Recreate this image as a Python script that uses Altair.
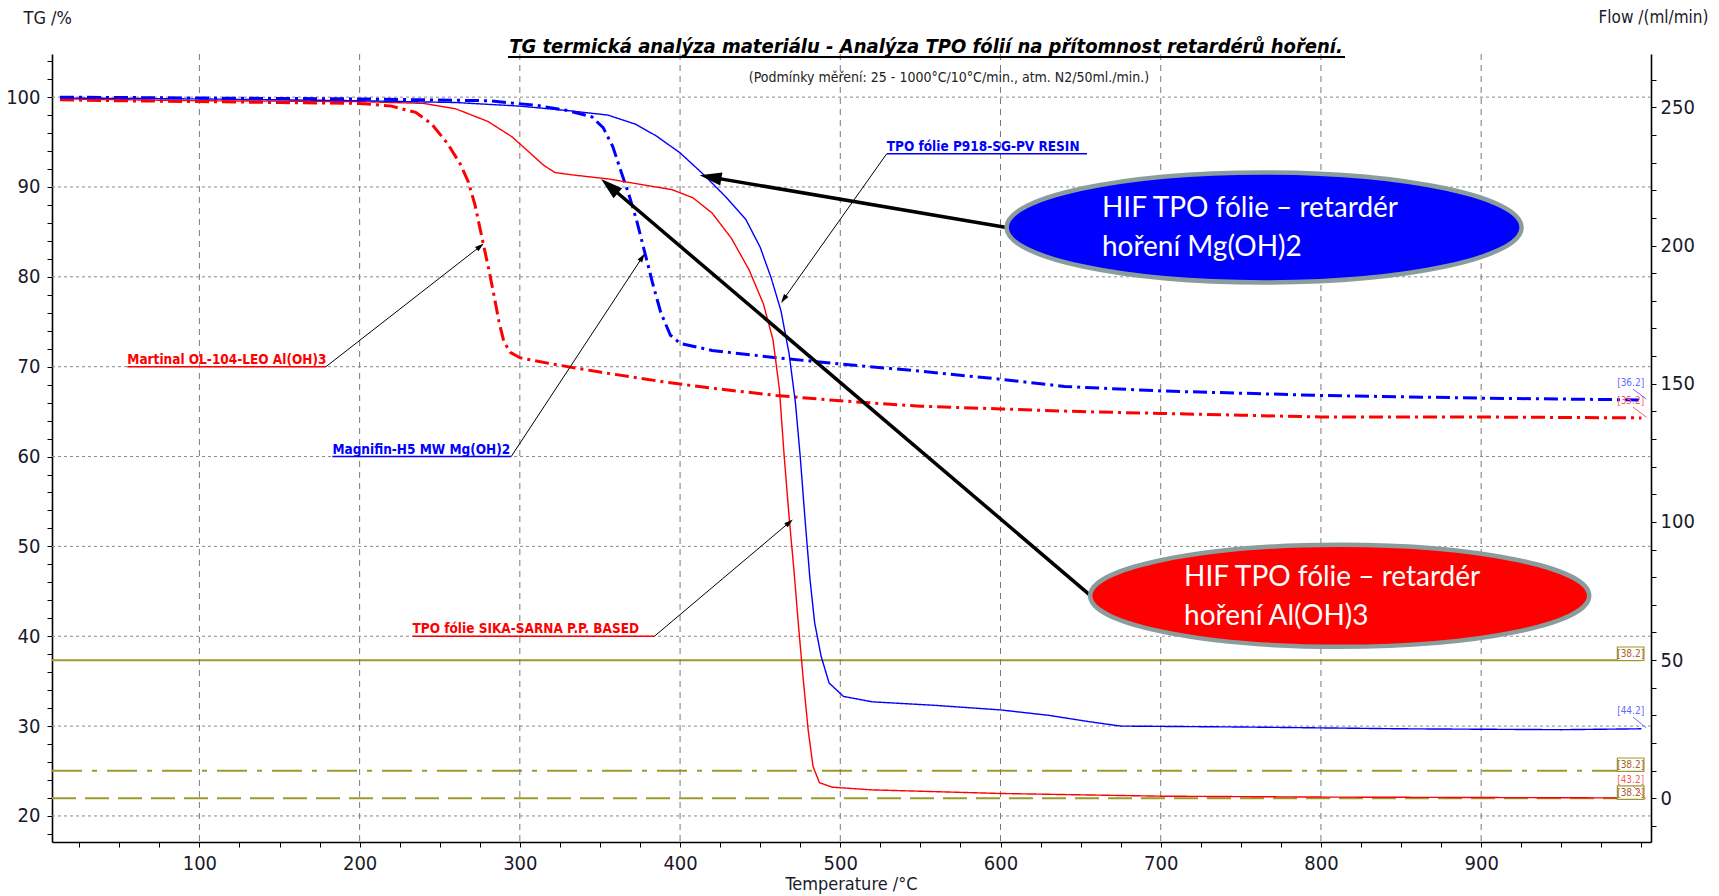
import math
import altair as alt
import pandas as pd

NARROW = "Liberation Sans Narrow, Arial Narrow, DejaVu Sans Condensed, sans-serif"
CALLOUT = "Lato, Carlito, Open Sans, sans-serif"

# Plot geometry and axis ranges
W, H = 1599, 788
T_MIN, T_MAX = 8, 1006
TG_MIN, TG_MAX = 17.1, 104.8
FLOW_MIN, FLOW_MAX = -15.8, 269.3

# ---------------- TG curves: temperature (°C) / mass (%) ----------------
martinal_t = [13, 50, 100, 150, 200, 220, 235, 245, 255, 263, 268, 272, 275, 278, 281,
              284, 287, 290, 294, 300, 320, 350, 390, 420, 460, 500, 550, 600, 650,
              700, 750, 800, 900, 1000]
martinal_tg = [99.7, 99.6, 99.5, 99.4, 99.3, 99.0, 98.3, 97.0, 94.8, 92.5, 90.5, 88.0,
               85.5, 83.0, 80.5, 77.8, 75.0, 72.8, 71.6, 71.0, 70.3, 69.4, 68.3, 67.6,
               66.8, 66.2, 65.6, 65.3, 65.0, 64.8, 64.6, 64.4, 64.4, 64.3]

magnifin_t = [13, 100, 200, 280, 310, 330, 345, 352, 358, 363, 368, 373, 378, 383, 388,
              394, 400, 420, 460, 500, 550, 600, 640, 700, 800, 900, 1000]
magnifin_tg = [100.0, 99.9, 99.8, 99.6, 99.1, 98.5, 97.8, 96.6, 94.5, 91.8, 89.2, 86.2,
               82.7, 79.2, 76.0, 73.5, 72.6, 71.8, 71.0, 70.3, 69.5, 68.6, 67.8, 67.3,
               66.8, 66.5, 66.3]

sika_t = [13, 100, 200, 240, 260, 280, 295, 305, 315, 322, 335, 355, 375, 395, 408, 420,
          432, 443, 452, 458, 462, 465, 468, 471, 474, 477, 480, 483, 487, 495, 520, 600,
          700, 800, 1000]
sika_tg = [99.8, 99.6, 99.5, 99.3, 98.7, 97.3, 95.6, 94.0, 92.4, 91.6, 91.3, 90.9, 90.3,
           89.7, 88.8, 87.1, 84.3, 80.8, 77.0, 73.0, 67.5, 60.0, 53.4, 47.5, 41.0, 35.0,
           29.5, 25.5, 23.7, 23.2, 22.9, 22.5, 22.2, 22.1, 22.0]

p918_t = [13, 100, 200, 260, 300, 330, 355, 372, 385, 400, 414, 428, 441, 450, 457, 463,
          468, 472, 475, 478, 481, 484, 488, 493, 502, 520, 560, 600, 630, 655, 675, 750,
          850, 950, 1000]
p918_tg = [99.9, 99.8, 99.6, 99.4, 99.0, 98.5, 98.0, 97.0, 95.7, 93.8, 91.5, 89.0, 86.4,
           83.3, 79.8, 76.2, 71.5, 66.0, 60.0, 53.0, 46.5, 41.5, 37.8, 34.8, 33.3, 32.7,
           32.3, 31.8, 31.2, 30.5, 30.0, 29.9, 29.7, 29.6, 29.7]

# (name, T, TG, colour, dash pattern, width)
curves = [
    ("Martinal OL-104-LEO Al(OH)3", martinal_t, martinal_tg, "#ff0000", [14, 5, 3, 5], 3),
    ("Magnifin-H5  MW Mg(OH)2", magnifin_t, magnifin_tg, "#0000ff", [14, 5, 3, 5], 3),
    ("TPO fólie SIKA-SARNA P.P. BASED", sika_t, sika_tg, "#ff0000", [1, 0], 1.4),
    ("TPO fólie P918-SG-PV RESIN", p918_t, p918_tg, "#0000ff", [1, 0], 1.4),
]

# ---------------- purge gas flow (ml/min), right axis ----------------
flow_levels = [50, 10, 0]
flow_dash = [[1, 0], [30, 10, 5, 10], [24, 9]]
flow_span = [8, 1000]
FLOW_COLOR = "#9c9a2c"

# ---------------- curve labels with leader lines ----------------
label_text = ["Martinal OL-104-LEO Al(OH)3", "Magnifin-H5  MW Mg(OH)2",
              "TPO fólie SIKA-SARNA P.P. BASED", "TPO fólie P918-SG-PV RESIN"]
label_color = ["#ff0000", "#0000ff", "#ff0000", "#0000ff"]
label_t0 = [55, 183, 233, 529]        # underline start
label_t1 = [179, 294.6, 384, 654]     # underline end
label_tg = [70.0, 60.0, 40.0, 93.7]   # underline level
leader_from_t = [179, 294.6, 384, 529]
leader_to_t = [277.5, 378, 470.4, 463]
leader_to_tg = [83.7, 82.6, 53.0, 77.1]

# ---------------- call-out ellipses ----------------
callout_lines = [["HIF TPO fólie – retardér", "hoření Mg(OH)2"],
                 ["HIF TPO fólie – retardér", "hoření Al(OH)3"]]
callout_fill = ["#0000ff", "#ff0000"]
callout_center_t = [764.5, 811.7]
callout_center_tg = [85.5, 44.5]
callout_size_px = [(515, 110), (499, 102)]
callout_text_t = [663.3, 714.6]
callout_text_tg = [[87.6, 83.2], [46.5, 42.1]]
arrow_from_t = [603.8, 656.4]
arrow_from_tg = [85.5, 44.5]
arrow_to_t = [412.2, 350.7]
arrow_to_tg = [91.3, 90.9]

# ---------------- end-of-curve value tags ----------------
tag_text = ["[36.2]", "[35.2]", "[38.2]", "[44.2]", "[38.2]", "[43.2]", "[38.2]"]
tag_color = ["#6a6aff", "#ff5c5c", "#a8602a", "#6a6aff", "#a8602a", "#ff5c5c", "#a8602a"]
tag_tg = [68.2, 66.2, 38.05, 31.7, 25.7, 24.0, 22.6]
tag_boxed = [False, False, True, False, True, False, True]
tag_curve_end_tg = [66.4, 64.4, None, 29.8, None, 21.9, None]
TAG_T = 993.3

kx = W / (T_MAX - T_MIN)
ky = H / (TG_MAX - TG_MIN)


def arrow_head(t0, v0, t1, v1, half_len):
    """Centre and rotation of an arrowhead whose tip sits at (t1, v1)."""
    dxp = (t1 - t0) * kx
    dyp = -(v1 - v0) * ky
    d = math.hypot(dxp, dyp)
    ux, uy = dxp / d, dyp / d
    angle = math.degrees(math.atan2(ux, -uy)) % 360
    return t1 - ux * half_len / kx, v1 + uy * half_len / ky, angle


HEAD_PATH = "M0,-1L-0.6,1L0.6,1Z"

xscale = alt.Scale(domain=[T_MIN, T_MAX], nice=False, zero=False)
yscale = alt.Scale(domain=[TG_MIN, TG_MAX], nice=False, zero=False)
fscale = alt.Scale(domain=[FLOW_MIN, FLOW_MAX], nice=False, zero=False)

xaxis = alt.Axis(
    values=list(range(25, 1001, 25)),
    labelExpr="datum.value % 100 === 0 && datum.value < 1000 ? datum.label : ''",
    grid=False, tickSize=5, tickColor="#000", domainColor="#000", domainWidth=1.6,
    labelFont=NARROW, labelFontSize=20, labelColor="#1a1a2a", labelPadding=6,
    labelOverlap=False, labelFlush=False,
    title="Temperature /°C", titleFont=NARROW, titleFontSize=18, titleFontWeight="normal",
    titleColor="#1a1a2a", titleX=799, titleY=42, titleBaseline="middle", titleAnchor="start",
    titleAlign="center",
)
yaxis = alt.Axis(
    values=list(range(18, 105, 2)),
    labelExpr="datum.value % 10 === 0 ? datum.label : ''",
    grid=False, tickSize=5, tickColor="#000", domainColor="#000", domainWidth=1.6,
    labelFont=NARROW, labelFontSize=20, labelColor="#1a1a2a", labelPadding=7,
    labelOverlap=False, labelFlush=False,
    title="TG /%", titleFont=NARROW, titleFontSize=18, titleFontWeight="normal",
    titleColor="#1a1a2a", titleAngle=0, titleAlign="left", titleBaseline="middle",
    titleX=-29, titleY=-36,
)
faxis = alt.Axis(
    orient="right",
    values=list(range(-10, 261, 10)),
    labelExpr="datum.value % 50 === 0 ? datum.label : ''",
    grid=False, tickSize=5, tickColor="#000", domainColor="#000", domainWidth=1.6,
    labelFont=NARROW, labelFontSize=20, labelColor="#1a1a2a", labelPadding=4,
    labelOverlap=False, labelFlush=False,
    title="Flow /(ml/min)", titleFont=NARROW, titleFontSize=17, titleFontWeight="normal",
    titleColor="#1a1a2a", titleAngle=0, titleAlign="left", titleBaseline="middle",
    titleX=-53, titleY=-37,
)

X = alt.X("T:Q", scale=xscale, axis=xaxis)
Y = alt.Y("TG:Q", scale=yscale, axis=yaxis)
X2 = alt.X2("T2:Q")
Y2 = alt.Y2("TG2:Q")

layers = []

# grid
vgrid = pd.DataFrame({"T": list(range(100, 1000, 100))})
hgrid = pd.DataFrame({"TG": list(range(20, 101, 10))})
layers.append(alt.Chart(vgrid).mark_rule(color="#7a7a7a", strokeDash=[6, 5], strokeWidth=1).encode(x=X))
layers.append(alt.Chart(hgrid).mark_rule(color="#8a8a8a", strokeDash=[3, 3], strokeWidth=1).encode(y=Y))

# TG curves
for name, ts, vs, col, dash, width in curves:
    df = pd.DataFrame({"T": ts, "TG": vs, "i": range(len(ts))})
    layers.append(
        alt.Chart(df).mark_line(color=col, strokeDash=dash, strokeWidth=width)
        .encode(x=X, y=Y, order="i:Q")
    )

# curve labels, underlines and leaders
lab = pd.DataFrame({"T": label_t0, "TG": label_tg, "label": label_text, "c": label_color})
layers.append(
    alt.Chart(lab).mark_text(font=NARROW, fontSize=13.5, fontWeight="bold", align="left",
                             baseline="alphabetic", dy=-3)
    .encode(x=X, y=Y, text="label:N", color=alt.Color("c:N", scale=None))
)
uline = pd.DataFrame({"T": label_t0, "T2": label_t1, "TG": label_tg, "c": label_color})
layers.append(
    alt.Chart(uline).mark_rule(strokeWidth=1.5)
    .encode(x=X, x2=X2, y=Y, color=alt.Color("c:N", scale=None))
)
heads = []
for t0, v0, t1, v1 in zip(leader_from_t, label_tg, leader_to_t, leader_to_tg):
    tc, vc, ang = arrow_head(t0, v0, t1, v1, 4.5)
    heads.append({"T": t0, "TG": v0, "T2": tc, "TG2": vc, "ht": tc, "hv": vc, "angle": ang})
heads = pd.DataFrame(heads)
layers.append(alt.Chart(heads).mark_rule(color="#000", strokeWidth=1).encode(x=X, x2=X2, y=Y, y2=Y2))
layers.append(
    alt.Chart(heads).mark_point(shape=HEAD_PATH, filled=True, color="#000", opacity=1, size=81)
    .encode(x=alt.X("ht:Q", scale=xscale, axis=xaxis), y=alt.Y("hv:Q", scale=yscale, axis=yaxis),
            angle=alt.Angle("angle:Q", scale=None))
)

# end-of-curve tags
tags = pd.DataFrame({"T": [TAG_T] * len(tag_text), "TG": tag_tg, "label": tag_text, "c": tag_color})
box = pd.DataFrame({
    "T": [TAG_T - 8.3] * 3, "T2": [TAG_T + 8.3] * 3,
    "TG": [v - 0.75 for v, b in zip(tag_tg, tag_boxed) if b],
    "TG2": [v + 0.75 for v, b in zip(tag_tg, tag_boxed) if b],
})
layers.append(alt.Chart(box).mark_rect(fill="#ffffff", stroke=FLOW_COLOR, strokeWidth=1.2)
              .encode(x=X, x2=X2, y=Y, y2=Y2))
layers.append(
    alt.Chart(tags).mark_text(font=NARROW, fontSize=10, align="center", baseline="middle")
    .encode(x=X, y=Y, text="label:N", color=alt.Color("c:N", scale=None))
)
tl = [{"T": TAG_T + 1.5, "TG": v - 0.7, "T2": 1003, "TG2": e, "c": c}
      for v, e, c in zip(tag_tg, tag_curve_end_tg, tag_color) if e is not None]
layers.append(alt.Chart(pd.DataFrame(tl)).mark_rule(strokeWidth=1)
              .encode(x=X, x2=X2, y=Y, y2=Y2, color=alt.Color("c:N", scale=None)))

# big call-out arrows
big = []
for t0, v0, t1, v1 in zip(arrow_from_t, arrow_from_tg, arrow_to_t, arrow_to_tg):
    tc, vc, ang = arrow_head(t0, v0, t1, v1, 11)
    big.append({"T": t0, "TG": v0, "T2": tc, "TG2": vc, "ht": tc, "hv": vc, "angle": ang})
big = pd.DataFrame(big)
layers.append(alt.Chart(big).mark_rule(color="#000", strokeWidth=3.5).encode(x=X, x2=X2, y=Y, y2=Y2))
layers.append(
    alt.Chart(big).mark_point(shape=HEAD_PATH, filled=True, color="#000", opacity=1, size=484)
    .encode(x=alt.X("ht:Q", scale=xscale, axis=xaxis), y=alt.Y("hv:Q", scale=yscale, axis=yaxis),
            angle=alt.Angle("angle:Q", scale=None))
)

# call-out ellipses with their text
for i in range(2):
    w, h = callout_size_px[i]
    ratio = h / w
    path = f"M-1,0A1,{ratio:.4f} 0 1 0 1,0A1,{ratio:.4f} 0 1 0 -1,0Z"
    e = pd.DataFrame({"T": [callout_center_t[i]], "TG": [callout_center_tg[i]]})
    layers.append(
        alt.Chart(e).mark_point(shape=path, filled=True, fill=callout_fill[i], stroke="#8a9c9c",
                                strokeWidth=4.5, opacity=1, size=w * w)
        .encode(x=X, y=Y)
    )
    txt = pd.DataFrame({"T": [callout_text_t[i]] * 2, "TG": callout_text_tg[i],
                        "label": callout_lines[i]})
    layers.append(
        alt.Chart(txt).mark_text(font=CALLOUT, fontSize=28, color="#ffffff", align="left",
                                 baseline="middle")
        .encode(x=X, y=Y, text="label:N")
    )

# heading
head_df = pd.DataFrame({"label": ["TG termická analýza materiálu - Analýza TPO fólií na přítomnost retardérů hoření."]})
layers.append(
    alt.Chart(head_df).mark_text(font=NARROW, fontSize=20, fontWeight="bold", fontStyle="italic",
                                 color="#000", align="center", baseline="alphabetic")
    .encode(x=alt.value(874), y=alt.value(-1), text="label:N")
)
layers.append(
    alt.Chart(head_df).mark_rule(color="#000", strokeWidth=2)
    .encode(x=alt.value(456), x2=alt.value(1293), y=alt.value(3))
)
sub_df = pd.DataFrame({"label": ["(Podmínky měření: 25 - 1000°C/10°C/min., atm. N2/50ml./min.)"]})
layers.append(
    alt.Chart(sub_df).mark_text(font=NARROW, fontSize=14, color="#222", align="center",
                                baseline="middle")
    .encode(x=alt.value(897), y=alt.value(24), text="label:N")
)

left = alt.layer(*layers)

# purge gas flow on the right axis
flow_layers = []
for lvl, dash in zip(flow_levels, flow_dash):
    fd = pd.DataFrame({"T": flow_span, "flow": [lvl, lvl]})
    flow_layers.append(
        alt.Chart(fd).mark_line(color=FLOW_COLOR, strokeDash=dash, strokeWidth=2)
        .encode(x=X, y=alt.Y("flow:Q", scale=fscale, axis=faxis))
    )
right = alt.layer(*flow_layers)

chart = (
    alt.layer(right, left)
    .resolve_scale(y="independent")
    .properties(width=W, height=H, autosize="none",
                padding={"left": 52, "top": 54, "right": 68, "bottom": 54},
                background="#ffffff")
    .configure_view(stroke=None)
)

chart.save("out.html", embed_options={"renderer": "svg", "actions": False})
